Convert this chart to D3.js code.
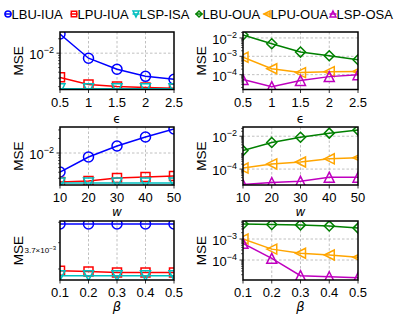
<!DOCTYPE html>
<html>
<head>
<meta charset="utf-8">
<script src="https://cdn.jsdelivr.net/npm/d3@7"></script>
<style>
  body { margin: 0; background: #fff; }
  svg { font-family: "Liberation Sans", Arial, sans-serif; }
</style>
</head>
<body>
<div id="chart"></div>
<script>
// x values of the three rows
let epsVals = [0.5, 1, 1.5, 2, 2.5];
let wVals = [10, 20, 30, 40, 50];
let betaVals = [0.1, 0.2, 0.3, 0.4, 0.5];

// series names
let leftKeys = ["LBU-IUA", "LPU-IUA", "LSP-ISA"];
let rightKeys = ["LBU-OUA", "LPU-OUA", "LSP-OSA"];

// MSE vs epsilon
let epsLBU_IUA = [0.0251, 0.00785, 0.0046, 0.00328, 0.00284];
let epsLPU_IUA = [0.00312, 0.00222, 0.00202, 0.00192, 0.00185];
let epsLSP_ISA = [0.00180, 0.00180, 0.00180, 0.00180, 0.00180];
let epsLBU_OUA = [0.0145, 0.0048, 0.0017, 0.00107, 0.00065];
let epsLPU_OUA = [0.00089, 0.00021, 0.000129, 0.000146, 0.00015];
let epsLSP_OSA = [5.4e-5, 2.2e-5, 4.8e-5, 7.8e-5, 1.0e-4];

// MSE vs w
let wLBU_IUA = [0.00405, 0.00826, 0.0140, 0.0214, 0.0314];
let wLPU_IUA = [0.00251, 0.00264, 0.00304, 0.00319, 0.00334];
let wLSP_ISA = [0.00240, 0.00240, 0.00240, 0.00240, 0.00240];
let wLBU_OUA = [0.00133, 0.0042, 0.0087, 0.0154, 0.0237];
let wLPU_OUA = [1.15e-4, 2.05e-4, 2.7e-4, 4.2e-4, 4.9e-4];
let wLSP_OSA = [1.15e-5, 1.5e-5, 1.8e-5, 3.2e-5, 3.2e-5];

// MSE vs beta
let betaLBU_IUA = [0.00491, 0.00491, 0.00491, 0.00491, 0.00491];
let betaLPU_IUA = [0.00294, 0.00292, 0.00289, 0.00289, 0.00289];
let betaLSP_ISA = [0.00279, 0.00279, 0.00279, 0.00279, 0.00279];
let betaLBU_OUA = [0.00518, 0.0049, 0.0047, 0.0042, 0.0033];
let betaLPU_OUA = [0.001, 0.00033, 0.00021, 0.000174, 0.000135];
let betaLSP_OSA = [6.2e-4, 1.2e-4, 1.8e-5, 1.6e-5, 1.45e-5];

// y limits (log) and ticks per panel
let epsIUAdomain = [0.00174, 0.0277];
let epsOUAdomain = [1.55e-5, 0.0211];
let wIUAdomain = [0.00218, 0.0345];
let wOUAdomain = [1.07e-5, 0.0365];
let betaIUAdomain = [0.00266, 0.00507];
let betaOUAdomain = [1.12e-5, 0.00719];

let epsIUAticks = [-2];
let epsOUAticks = [-2, -3, -4];
let wIUAticks = [-2];
let wOUAticks = [-2, -4];
let betaIUAticks = [];
let betaOUAticks = [-3, -4];
let betaIUAminorLabel = 3.7e-3;

let xTickLabels = {
  eps: ["0.5", "1", "1.5", "2", "2.5"],
  w: ["10", "20", "30", "40", "50"],
  beta: ["0.1", "0.2", "0.3", "0.4", "0.5"]
};

let colorMap = {
  "LBU-IUA": "#0000ff", "LPU-IUA": "#ff0000", "LSP-ISA": "#00bfbf",
  "LBU-OUA": "#008000", "LPU-OUA": "#ffa500", "LSP-OSA": "#bf00bf"
};
let shapeMap = {
  "LBU-IUA": "circle", "LPU-IUA": "square", "LSP-ISA": "tridown",
  "LBU-OUA": "diamond", "LPU-OUA": "trileft", "LSP-OSA": "triup"
};

const width = 399, height = 319;
let cols = [[60, 174], [243, 358]];
let rows = [[32, 89.5], [127, 185], [221, 280]];

let svg = d3.select("#chart").append("svg")
  .attr("width", width).attr("height", height);

function markerPath(shape, h) {
  switch (shape) {
    case "circle":
      return "M" + h + ",0A" + h + "," + h + " 0 1,1 " + (-h) + ",0A" + h + "," + h + " 0 1,1 " + h + ",0Z";
    case "square": {
      let s = h * 0.9;
      return "M" + (-s) + "," + (-s) + "H" + s + "V" + s + "H" + (-s) + "Z";
    }
    case "diamond":
      return "M0," + (-h) + "L" + h + ",0L0," + h + "L" + (-h) + ",0Z";
    case "triup":
      return "M0," + (-h) + "L" + h + "," + h + "L" + (-h) + "," + h + "Z";
    case "tridown":
      return "M0," + h + "L" + h + "," + (-h) + "L" + (-h) + "," + (-h) + "Z";
    case "trileft":
      return "M" + (-h) + ",0L" + h + "," + (-h) + "L" + h + "," + h + "Z";
  }
}

let panels = [
  { row: 0, col: 0, xs: epsVals, xl: "eps", dom: epsIUAdomain, ticks: epsIUAticks,
    series: [["LBU-IUA", epsLBU_IUA], ["LPU-IUA", epsLPU_IUA], ["LSP-ISA", epsLSP_ISA]] },
  { row: 0, col: 1, xs: epsVals, xl: "eps", dom: epsOUAdomain, ticks: epsOUAticks,
    series: [["LBU-OUA", epsLBU_OUA], ["LPU-OUA", epsLPU_OUA], ["LSP-OSA", epsLSP_OSA]] },
  { row: 1, col: 0, xs: wVals, xl: "w", dom: wIUAdomain, ticks: wIUAticks,
    series: [["LBU-IUA", wLBU_IUA], ["LPU-IUA", wLPU_IUA], ["LSP-ISA", wLSP_ISA]] },
  { row: 1, col: 1, xs: wVals, xl: "w", dom: wOUAdomain, ticks: wOUAticks,
    series: [["LBU-OUA", wLBU_OUA], ["LPU-OUA", wLPU_OUA], ["LSP-OSA", wLSP_OSA]] },
  { row: 2, col: 0, xs: betaVals, xl: "beta", dom: betaIUAdomain, ticks: betaIUAticks,
    minorLabel: betaIUAminorLabel,
    series: [["LBU-IUA", betaLBU_IUA], ["LPU-IUA", betaLPU_IUA], ["LSP-ISA", betaLSP_ISA]] },
  { row: 2, col: 1, xs: betaVals, xl: "beta", dom: betaOUAdomain, ticks: betaOUAticks,
    series: [["LBU-OUA", betaLBU_OUA], ["LPU-OUA", betaLPU_OUA], ["LSP-OSA", betaLSP_OSA]] }
];

let axisLabelText = { eps: "ϵ", w: "w", beta: "β" };

panels.forEach((p, pi) => {
  let [x0, x1] = cols[p.col];
  let [y0, y1] = rows[p.row];
  let x = d3.scaleLinear().domain([p.xs[0], p.xs[p.xs.length - 1]]).range([x0, x1]);
  let y = d3.scaleLog().domain(p.dom).range([y1, y0]);
  let g = svg.append("g");

  svg.append("clipPath").attr("id", "clip" + pi)
    .append("rect").attr("x", x0).attr("y", y0).attr("width", x1 - x0).attr("height", y1 - y0);

  // grid
  g.selectAll(".vgrid").data(p.xs.slice(1, -1)).enter().append("line")
    .attr("x1", d => x(d)).attr("x2", d => x(d)).attr("y1", y0).attr("y2", y1)
    .attr("stroke", "#b0b0b0").attr("stroke-width", 0.8).attr("stroke-dasharray", "2.5,2");
  g.selectAll(".hgrid").data(p.ticks).enter().append("line")
    .attr("x1", x0).attr("x2", x1).attr("y1", d => y(Math.pow(10, d))).attr("y2", d => y(Math.pow(10, d)))
    .attr("stroke", "#b0b0b0").attr("stroke-width", 0.8).attr("stroke-dasharray", "2.5,2");

  // minor ticks
  let [lo, hi] = p.dom;
  let minors = [];
  for (let e = Math.floor(Math.log10(lo)); e <= Math.ceil(Math.log10(hi)); e++) {
    for (let k = 2; k <= 9; k++) {
      let v = k * Math.pow(10, e);
      if (v >= lo && v <= hi) minors.push(v);
    }
  }
  g.selectAll(".minor").data(minors).enter().append("line")
    .attr("x1", x0 - 2).attr("x2", x0).attr("y1", d => y(d)).attr("y2", d => y(d))
    .attr("stroke", "#000").attr("stroke-width", 0.6);

  // major y ticks + labels
  p.ticks.forEach(e => {
    let yy = y(Math.pow(10, e));
    g.append("line").attr("x1", x0 - 3.5).attr("x2", x0).attr("y1", yy).attr("y2", yy)
      .attr("stroke", "#000").attr("stroke-width", 0.8);
    let t = g.append("text").attr("x", x0 - 6).attr("y", yy + 6)
      .attr("text-anchor", "end").attr("font-size", 13);
    t.append("tspan").text("10");
    t.append("tspan").attr("dy", -6).attr("font-size", 9).text("\u2212" + (-e));
  });
  if (p.minorLabel) {
    let yy = y(p.minorLabel);
    let t = g.append("text").attr("x", x0 - 4).attr("y", yy + 3.5)
      .attr("text-anchor", "end").attr("font-size", 8);
    t.append("tspan").text("3.7\u00d710");
    t.append("tspan").attr("dy", -3.5).attr("font-size", 6).text("\u22123");
  }

  // x ticks + labels
  g.selectAll(".xtick").data(p.xs).enter().append("line")
    .attr("x1", d => x(d)).attr("x2", d => x(d)).attr("y1", y1).attr("y2", y1 + 3.5)
    .attr("stroke", "#000").attr("stroke-width", 0.8);
  g.selectAll(".xlab").data(p.xs).enter().append("text")
    .attr("x", d => x(d)).attr("y", y1 + 17)
    .attr("text-anchor", "middle").attr("font-size", 13)
    .text((d, i) => xTickLabels[p.xl][i]);

  // axis labels
  g.append("text").attr("x", (x0 + x1) / 2).attr("y", p.xl === "eps" ? y1 + 33 : y1 + 30.5)
    .attr("text-anchor", "middle")
    .attr("font-family", "DejaVu Sans")
    .attr("font-style", p.xl === "eps" ? "normal" : "italic")
    .attr("font-size", p.xl === "beta" ? 13 : 12)
    .text(axisLabelText[p.xl]);
  g.append("text")
    .attr("transform", "translate(" + (p.col === 0 ? 23 : 206) + "," + ((y0 + y1) / 2) + ") rotate(-90)")
    .attr("text-anchor", "middle").attr("font-size", 13.5)
    .text("MSE");

  // series
  let line = d3.line().x((d, i) => x(p.xs[i])).y(d => y(d));
  let sg = g.append("g").attr("clip-path", "url(#clip" + pi + ")");
  p.series.forEach(([key, vals]) => {
    sg.append("path").datum(vals).attr("d", line)
      .attr("fill", "none").attr("stroke", colorMap[key]).attr("stroke-width", 1.5);
    sg.selectAll(null).data(vals).enter().append("path")
      .attr("transform", (d, i) => "translate(" + x(p.xs[i]) + "," + y(d) + ")")
      .attr("d", markerPath(shapeMap[key], 5))
      .attr("fill", "none").attr("stroke", colorMap[key]).attr("stroke-width", 1.5);
  });

  // frame
  g.append("rect").attr("x", x0).attr("y", y0).attr("width", x1 - x0).attr("height", y1 - y0)
    .attr("fill", "none").attr("stroke", "#000").attr("stroke-width", 1.5);
});

// legend
let legendKeys = leftKeys.concat(rightKeys);
let legendMarkX = [8, 74, 136, 199, 267, 333];
let legend = svg.selectAll(".legend").data(legendKeys).enter().append("g")
  .attr("class", "legend")
  .attr("transform", (d, i) => "translate(" + legendMarkX[i] + ",14)");
legend.append("line").attr("x1", -3.5).attr("x2", 3.5)
  .attr("stroke", d => colorMap[d]).attr("stroke-width", 1.5);
legend.append("path").attr("d", d => markerPath(shapeMap[d], 3))
  .attr("fill", "none").attr("stroke", d => colorMap[d]).attr("stroke-width", 1.5);
legend.append("text").attr("x", 3.5).attr("y", 4.6)
  .attr("font-size", 13).text(d => d);
</script>
</body>
</html>
